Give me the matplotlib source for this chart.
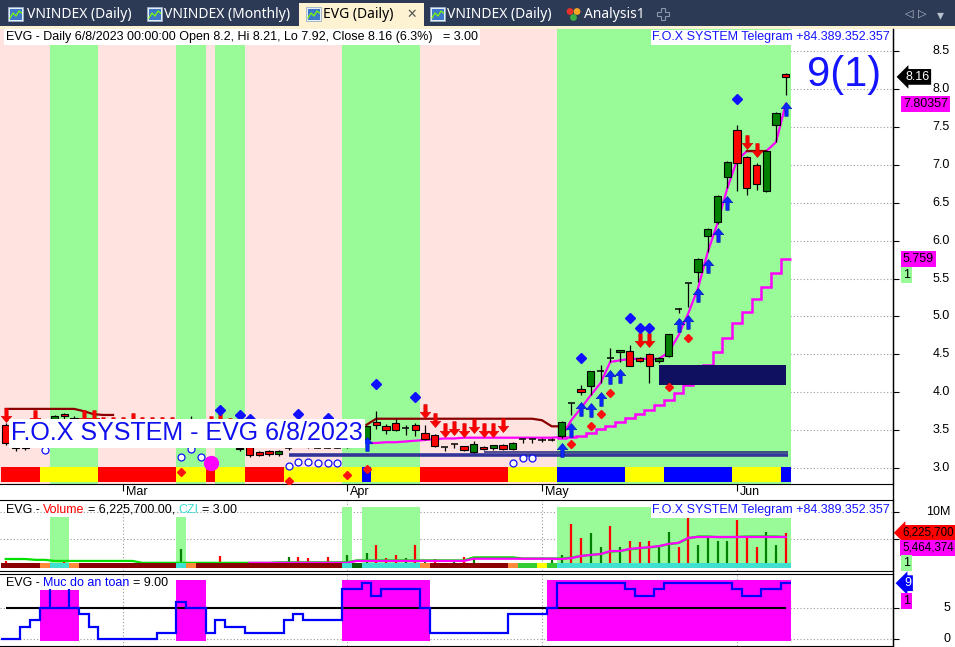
import numpy as np
import matplotlib
matplotlib.use("Agg")
import matplotlib.pyplot as plt
from matplotlib.patches import Rectangle, Circle, Polygon
from matplotlib.path import Path
from matplotlib.lines import Line2D
from matplotlib.font_manager import FontProperties
from matplotlib.transforms import blended_transform_factory

W, H = 955, 647
plt.rcParams["font.family"] = ["Liberation Sans", "DejaVu Sans"]
plt.rcParams["font.size"] = 9

# ---------------- data (bar 0 = 13 Feb 2023 ... bar 80 = 8 Jun 2023) ----------------
month_names = ["Mar", "Apr", "May", "Jun"]
month_bars = [12, 35, 55, 75]

opens = [3.57, 3.33, 3.28, 3.30, 3.40, 3.50, 3.71, 3.66, 3.55, 3.50,
         3.45, 3.42, 3.40, 3.38, 3.36, 3.33, 3.32, 3.35, 3.33, 3.45,
         3.50, 3.46, 3.40, 3.45, 3.26, 3.28, 3.21, 3.22, 3.18, 3.26,
         3.30, 3.32, 3.26, 3.26, 3.26, 3.28, 3.38, 3.38, 3.61, 3.55,
         3.59, 3.53, 3.57, 3.46, 3.44, 3.28, 3.32, 3.29, 3.21, 3.28,
         3.26, 3.30, 3.25, 3.38, 3.38, 3.37, 3.37, 3.42, 3.86, 4.04,
         4.08, 4.28, 4.45, 4.53, 4.54, 4.45, 4.50, 4.41, 4.48, 5.10,
         5.44, 5.59, 6.06, 6.25, 6.84, 7.46, 7.10, 7.00, 6.65, 7.53,
         8.20]
highs = [3.60, 3.40, 3.38, 3.45, 3.52, 3.70, 3.72, 3.68, 3.60, 3.55,
         3.50, 3.48, 3.45, 3.44, 3.42, 3.40, 3.40, 3.42, 3.50, 3.69,
         3.58, 3.50, 3.52, 3.50, 3.40, 3.34, 3.23, 3.24, 3.24, 3.30,
         3.38, 3.36, 3.32, 3.32, 3.30, 3.40, 3.45, 3.56, 3.75, 3.58,
         3.64, 3.57, 3.60, 3.57, 3.45, 3.28, 3.32, 3.29, 3.35, 3.29,
         3.31, 3.32, 3.34, 3.38, 3.38, 3.40, 3.40, 3.62, 3.86, 4.09,
         4.28, 4.36, 4.58, 4.56, 4.62, 4.47, 4.52, 4.46, 4.77, 5.11,
         5.44, 5.77, 6.16, 6.60, 7.05, 7.53, 7.12, 7.02, 7.19, 7.70,
         8.21]
lows = [3.30, 3.23, 3.24, 3.28, 3.35, 3.48, 3.60, 3.50, 3.45, 3.40,
        3.38, 3.35, 3.33, 3.32, 3.30, 3.28, 3.28, 3.30, 3.30, 3.40,
        3.42, 3.38, 3.36, 3.35, 3.23, 3.15, 3.16, 3.16, 3.16, 3.24,
        3.28, 3.27, 3.26, 3.26, 3.26, 3.26, 3.34, 3.36, 3.52, 3.45,
        3.49, 3.44, 3.42, 3.37, 3.28, 3.22, 3.26, 3.23, 3.20, 3.24,
        3.24, 3.24, 3.24, 3.33, 3.33, 3.34, 3.35, 3.40, 3.70, 3.96,
        3.96, 4.12, 4.40, 4.40, 4.35, 4.40, 4.12, 4.38, 4.46, 5.04,
        5.12, 5.45, 5.85, 6.22, 6.69, 6.65, 6.60, 6.67, 6.64, 7.30,
        7.92]
closes = [3.33, 3.26, 3.26, 3.40, 3.48, 3.69, 3.69, 3.55, 3.50, 3.45,
          3.42, 3.40, 3.38, 3.35, 3.33, 3.32, 3.35, 3.33, 3.45, 3.50,
          3.46, 3.40, 3.45, 3.38, 3.25, 3.17, 3.17, 3.18, 3.22, 3.26,
          3.32, 3.30, 3.26, 3.26, 3.26, 3.38, 3.40, 3.55, 3.57, 3.50,
          3.50, 3.53, 3.50, 3.38, 3.29, 3.28, 3.32, 3.24, 3.32, 3.25,
          3.30, 3.25, 3.33, 3.38, 3.38, 3.37, 3.37, 3.61, 3.86, 4.00,
          4.28, 4.28, 4.45, 4.56, 4.35, 4.41, 4.35, 4.45, 4.77, 5.10,
          5.44, 5.76, 6.15, 6.59, 7.04, 7.02, 6.69, 6.75, 7.18, 7.68,
          8.16]

# stop lines: (first bar, values)
resist_segments = [(0, [3.78, 3.78, 3.78, 3.78, 3.78, 3.78, 3.78, 3.78, 3.75, 3.71, 3.70, 3.70]),
                   (37, [3.57, 3.65, 3.65, 3.65, 3.65, 3.65, 3.65, 3.65, 3.65, 3.65,
                         3.65, 3.65, 3.65, 3.65, 3.65, 3.65, 3.65, 3.65, 3.63, 3.55, 3.55]),
                   (76, [7.18, 7.18, 7.18])]
fast_trail_start = 37
fast_trail = [3.33, 3.33, 3.34, 3.34, 3.35, 3.36, 3.37, 3.38, 3.39, 3.39,
              3.40, 3.40, 3.40, 3.40, 3.40, 3.40, 3.40, 3.40, 3.40, 3.40,
              3.41, 3.63, 3.79, 3.96, 4.12, 4.40, 4.42, 4.44, 4.44, 4.44,
              4.44, 4.53, 4.75, 5.04, 5.37, 5.85, 6.23, 6.69, 7.06, 7.18,
              7.18, 7.18, 7.30, 7.80357]
slow_trail_start = 57
slow_trail = [3.40, 3.41, 3.42, 3.46, 3.51, 3.55, 3.61, 3.66, 3.71, 3.77,
              3.83, 3.90, 3.99, 4.09, 4.16, 4.36, 4.53, 4.72, 4.91, 5.06,
              5.23, 5.39, 5.57, 5.759]
support_levels = [(29, 3.17), (49, 3.21)]
zone_bars = (67, 80)
zone_prices = (4.10, 4.36)

sell_bars = [0, 3, 8, 9, 10, 11, 12, 13, 14, 15, 16, 17, 21, 22, 23,
             43, 44, 45, 46, 47, 48, 49, 50, 51, 65, 66, 76, 77]
sell_tips = [3.61, 3.58, 3.58, 3.58, 3.49, 3.49, 3.49, 3.54, 3.49, 3.49, 3.49, 3.49, 3.50, 3.54, 3.47,
             3.66, 3.54, 3.41, 3.43, 3.41, 3.46, 3.41, 3.41, 3.47, 4.60, 4.60, 7.21, 7.10]
buy_bars = [37, 57, 58, 59, 60, 61, 62, 63, 69, 70, 71, 72, 73, 74, 80]
buy_tips = [3.41, 3.33, 3.59, 3.87, 3.86, 4.00, 4.29, 4.31, 4.98, 5.02, 5.37, 5.76, 6.17, 6.59, 7.83]
blue_dia_bars = [22, 24, 25, 30, 33, 38, 42, 59, 64, 65, 66, 75]
blue_dia_vals = [3.765, 3.70, 3.646, 3.712, 3.66, 4.108, 3.937, 4.451, 4.979, 4.847, 4.847, 7.868]
red_dia_bars = [18, 29, 35, 37, 58, 60, 61, 62, 68, 70]
red_dia_vals = [2.947, 2.828, 2.908, 2.987, 3.317, 3.554, 3.712, 3.989, 4.069, 4.715]
ring_bars = [4, 18, 19, 20, 29, 30, 31, 32, 33, 34, 52, 53, 54]
ring_vals = [3.237, 3.145, 3.251, 3.145, 3.026, 3.079, 3.079, 3.066, 3.066, 3.066, 3.066, 3.132, 3.132]
dot_bar, dot_val = 21, 3.066

bg_segments = [(0, 4, "pink"), (5, 9, "green"), (10, 17, "pink"), (18, 20, "green"),
               (21, 21, "pink"), (22, 24, "green"), (25, 34, "pink"), (35, 42, "green"),
               (43, 56, "pink"), (57, 80, "green")]
band_segments = [(0, 3, "r"), (4, 9, "y"), (10, 17, "r"), (18, 20, "y"), (21, 21, "r"),
                 (22, 24, "y"), (25, 28, "r"), (29, 36, "y"), (37, 37, "b"), (38, 42, "y"),
                 (43, 51, "r"), (52, 56, "y"), (57, 63, "b"), (64, 67, "y"), (68, 74, "b"),
                 (75, 79, "y"), (80, 80, "b")]

# volume panel (millions)
volumes = [1.1, 0.55, 0.4, 0.5, 0.45, 0.8, 1.1, 0.6, 0.5, 0.4,
           0.5, 0.4, 0.6, 0.4, 0.5, 0.4, 0.6, 0.4, 3.3, 0.8,
           0.6, 0.7, 2.0, 0.8, 0.7, 0.9, 0.8, 0.6, 0.8, 1.8,
           1.8, 1.6, 0.6, 1.8, 0.6, 2.2, 0.3, 2.5, 4.0, 1.6,
           2.2, 1.6, 4.0, 1.2, 1.5, 0.8, 1.0, 1.8, 1.5, 0.6,
           0.6, 0.5, 0.8, 0.6, 0.6, 0.4, 1.3, 2.2, 7.8, 5.3,
           6.2, 3.6, 7.5, 3.6, 4.7, 4.5, 4.7, 3.6, 6.4, 3.6,
           9.1, 4.0, 5.3, 4.7, 4.7, 8.5, 5.6, 3.6, 6.4, 4.0,
           6.2257]
vol_up = "rrrrrgrrrrrrrrrgrrgrrrrrgrrrggrrrrggggrrrgrgrrgrgrgrggggggrrggrgrrrggrrggggrrrggr"
vol_ma_green = [1.45, 1.45, 1.45, 1.3, 1.3, 1.1, 1.1, 1.1, 1.1, 1.1,
                1.1, 1.1, 1.1, 1.1, 0.75, 0.75, 0.75, 0.75, 0.75, 0.75,
                0.75, 0.75, 0.75, 0.75, 0.75, 0.75, 0.75, 0.75, 0.85, 0.85,
                0.85, 0.85, 0.85, 0.85, 0.85, 0.85, 1.2, 1.2, 1.2, 1.2,
                1.2, 1.2, 1.2, 1.2, 1.2, 1.2, 1.2, 1.2, 1.75, 1.75,
                1.75, 1.75, 1.75, 1.55, 1.55, 1.55, 1.55, 1.55, 1.7, 2.0,
                2.2, 2.35, 2.8, 2.9, 3.2, 3.4, 3.55, 3.75, 4.15, 4.35,
                5.2, 5.55, 5.55, 5.42, 5.42, 5.44, 5.55, 5.55, 5.55, 5.55,
                5.44]
vol_ma_mag_start = 25
vol_ma_mag = [0.75, 0.75, 0.75, 0.75, 0.75, 0.75, 0.75, 0.75, 0.75, 0.75,
              0.75, 1.1, 1.1, 1.1, 1.1, 1.1, 1.1, 1.1, 1.1, 1.1,
              1.1, 1.1, 1.1, 1.5, 1.5, 1.5, 1.5, 1.5, 1.5, 1.5,
              1.5, 1.5, 1.45, 1.6, 2.0, 2.2, 2.35, 2.9, 2.9, 3.3,
              3.45, 3.6, 3.8, 4.2, 4.4, 5.3, 5.46, 5.46, 5.46, 5.46,
              5.46, 5.46, 5.46, 5.46, 5.46, 5.4644]
czi_segments = [(0, 3, "dr"), (4, 4, "or"), (5, 6, "cy"), (7, 7, "or"), (8, 17, "dr"),
                (18, 18, "cy"), (19, 19, "or"), (20, 34, "dr"), (35, 35, "cy"), (36, 36, "dg"),
                (37, 42, "cy"), (43, 43, "or"), (44, 51, "dr"), (52, 52, "or"), (53, 54, "li"),
                (55, 55, "ye"), (56, 56, "li"), (57, 80, "cy")]
vol_bg_segments = [(5, 6, 9.1), (18, 18, 9.1), (35, 35, 10.9), (37, 42, 10.9), (57, 80, 10.9)]

# safety level panel
safety = [0, 0, 2, 3, 5, 5, 5, 5, 4, 2,
          0, 0, 0, 0, 0, 0, 1, 1, 6, 5,
          5, 1, 3, 2, 2, 1, 1, 1, 1, 3,
          4, 3, 3, 3, 3, 8, 8, 9, 7, 8,
          8, 8, 8, 5, 1, 1, 1, 1, 1, 1,
          1, 1, 4, 4, 4, 4, 5, 9, 9, 9,
          9, 9, 9, 9, 8, 7, 7, 8, 9, 9,
          9, 9, 9, 9, 9, 8, 7, 7, 8, 8,
          9]
safety_spikes = [4.5, 6.5]
safe_zones = [(4, 7, 7.9), (18, 20, 9.5), (35, 43, 9.5), (56, 80, 9.5)]

# ---------------- colours ----------------
BG = {"pink": "#FFE3E0", "green": "#98FB98"}
BAND = {"r": "#FF0000", "y": "#FFFF00", "b": "#0000FF"}
CZI = {"dr": "#8B0000", "or": "#FF8C3A", "cy": "#40E0D0", "dg": "#006400",
       "li": "#32CD32", "ye": "#FFFF00"}
BLUE_TXT = "#1414FF"

fig = plt.figure(figsize=(W / 100, H / 100), dpi=100)
fig.patch.set_facecolor("white")


def px_axes(x0, y0, x1, y1):
    return fig.add_axes([x0 / W, 1 - y1 / H, (x1 - x0) / W, (y1 - y0) / H])


def fig_text(x, y, s, **kw):
    return fig.text(x / W, 1 - y / H, s, **kw)


# ---------------- tab strip ----------------
tab = px_axes(0, 0, W, 29)
tab.set_xlim(0, W)
tab.set_ylim(29, 0)
tab.axis("off")
tab.add_patch(Rectangle((0, 0), W, 29, fc="#2C3A56", ec="none"))
tab.add_patch(Rectangle((0, 26), W, 3, fc="#FBF1D3", ec="none"))
tab.add_patch(Rectangle((299, 3), 125, 26, fc="#FDF3D3", ec="none"))


def chart_icon(x):
    tab.add_patch(Rectangle((x, 7), 15, 14, fc="#E6EEF8", ec="#9AB0CC", lw=0.6))
    tab.add_patch(Rectangle((x + 1.5, 8.5), 12, 11, fc="#3E78C8", ec="none"))
    tab.plot([x + 2, x + 5, x + 8, x + 11, x + 13.5], [18, 13, 16, 11, 13], color="#7CFC00", lw=0.9)


tab_font = ["Noto Sans", "DejaVu Sans"]
for xi, xt, label in [(8, 27, "VNINDEX (Daily)"), (147, 164, "VNINDEX (Monthly)"),
                      (430, 447, "VNINDEX (Daily)")]:
    chart_icon(xi)
    tab.text(xt, 14.5, label, color="white", fontsize=10, family=tab_font, va="center")
chart_icon(306)
tab.text(323, 14.5, "EVG (Daily)", color="black", fontsize=10, family=tab_font,
         fontweight="bold", va="center")
tab.text(412, 14.5, "\u2715", color="#555555", fontsize=9, family="DejaVu Sans", va="center", ha="center")
for cx, cy, col in [(570, 11.5, "#E8302A"), (577, 11.5, "#F5A623"), (573.5, 17.5, "#3CB043")]:
    tab.add_patch(Circle((cx, cy), 3.4, fc=col, ec="none"))
tab.text(584, 14.5, "Analysis1", color="white", fontsize=10, family=tab_font, va="center")
plus = [(-2, -6), (2, -6), (2, -2), (6, -2), (6, 2), (2, 2), (2, 6), (-2, 6), (-2, 2), (-6, 2), (-6, -2), (-2, -2)]
tab.add_patch(Polygon([(663 + a, 13.5 + b) for a, b in plus], closed=True, fc="none", ec="#8A96AA", lw=0.8))
tab.text(909, 13.5, "\u25C1", color="#B8C0CC", fontsize=8, family="DejaVu Sans", va="center", ha="center")
tab.text(922, 13.5, "\u25B7", color="#B8C0CC", fontsize=8, family="DejaVu Sans", va="center", ha="center")
tab.text(940, 15, "\u25BE", color="#B8C0CC", fontsize=10, family="DejaVu Sans", va="center", ha="center")

# ---------------- price panel ----------------
ax = px_axes(0, 29, 893, 484)
ax.set_xlim(-0.59, 91.0)
ax.set_ylim(2.789, 8.792)
ax.set_axisbelow(True)
ax.yaxis.grid(True, ls=(0, (1, 2)), color="#9A9A9A", lw=0.8)
for s in ["top", "left"]:
    ax.spines[s].set_visible(False)
ax.yaxis.tick_right()
price_ticks = [3.0, 3.5, 4.0, 4.5, 5.0, 5.5, 6.0, 6.5, 7.0, 7.5, 8.0, 8.5]
ax.set_yticks(price_ticks)
ax.tick_params(axis="y", length=4, direction="out", labelright=False, labelleft=False)
ax.set_xticks(month_bars)
ax.tick_params(axis="x", length=5, direction="out", labelbottom=False)

x_lo = ax.get_xlim()[0]
for s, e, c in bg_segments:
    ax.axvspan(s - 0.5 if s > 0 else x_lo, e + 0.5, color=BG[c], lw=0, zorder=0.8)
for s, e, c in band_segments:
    ax.add_patch(Rectangle((s - 0.5, 2.812), e - s + 1, 0.203, fc=BAND[c], ec="none", zorder=1.2))

# stop / trail lines
for start, vals in resist_segments:
    ax.plot(np.arange(start, start + len(vals)), vals, color="#8B0000", lw=1.6, zorder=2.6)
ax.plot(np.arange(fast_trail_start, fast_trail_start + len(fast_trail)), fast_trail,
        color="#FF00FF", lw=1.6, zorder=2.5)
ax.stairs(slow_trail, np.arange(slow_trail_start - 0.5, slow_trail_start + len(slow_trail)),
          baseline=None, color="#FF00FF", lw=1.8, zorder=2.5)
ax.hlines(support_levels[0][1], support_levels[0][0], 80.2, color="#33339A", lw=2.6, zorder=2.4)
ax.hlines(support_levels[1][1], support_levels[1][0], 80.2, color="#20207A", lw=1.1, zorder=2.4)
ax.fill_between(list(zone_bars), zone_prices[0], zone_prices[1], color="#101060", lw=0, zorder=2.7)

# candles
for i in range(len(opens)):
    o, h, l, c = opens[i], highs[i], lows[i], closes[i]
    ax.vlines(i, l, h, color="black", lw=0.9, zorder=3)
    if abs(c - o) < 1e-9:
        ax.hlines(c, i - 0.375, i + 0.375, color="black", lw=1.1, zorder=3.1)
    else:
        ax.add_patch(Rectangle((i - 0.375, min(o, c)), 0.75, abs(c - o),
                               fc="#008000" if c > o else "#FF0000", ec="black", lw=0.8, zorder=3.1))

up_arrow = Path([(0, 0), (0.38, -0.45), (0.12, -0.45), (0.12, -1.0), (-0.12, -1.0),
                 (-0.12, -0.45), (-0.38, -0.45), (0, 0)], closed=True)
down_arrow = Path([(0, 0), (0.38, 0.45), (0.12, 0.45), (0.12, 1.0), (-0.12, 1.0),
                   (-0.12, 0.45), (-0.38, 0.45), (0, 0)], closed=True)
ax.plot(sell_bars, sell_tips, ls="none", marker=down_arrow, ms=20, mfc="#FF0000",
        mec="#D00000", mew=0.4, zorder=5)
ax.plot(buy_bars, buy_tips, ls="none", marker=up_arrow, ms=20, mfc="#0A28FF",
        mec="#0010B0", mew=0.4, zorder=5)
ax.plot(blue_dia_bars, blue_dia_vals, ls="none", marker="D", ms=4.6, color="#1010FF", zorder=5)
ax.plot(red_dia_bars, red_dia_vals, ls="none", marker="D", ms=4.2, color="#FF1010", zorder=5)
ax.plot(ring_bars, ring_vals, ls="none", marker="o", ms=5, mfc="white", mec="#1010FF", mew=0.9, zorder=5)
ax.plot([dot_bar], [dot_val], ls="none", marker="o", ms=10, color="#FF00FF", zorder=5)

tr_main = blended_transform_factory(ax.transData, ax.transAxes)
for b, name in zip(month_bars, month_names):
    ax.text(b + 0.3, -0.0185, name, transform=tr_main, ha="left", va="center", fontsize=9)


def right_labels(axis, values, texts):
    tr = blended_transform_factory(axis.transAxes, axis.transData)
    for v, t in zip(values, texts):
        axis.text(950 / 893, v, t, transform=tr, ha="right", va="center", fontsize=9)


def tag(axis, value, text, fc, tc="black", dy=0, arrow=False, x_px=903, size=9):
    style = "larrow,pad=0.15" if arrow else "square,pad=0.15"
    axis.annotate(text, xy=(1, value), xycoords=("axes fraction", "data"),
                  xytext=(x_px - 893, -dy), textcoords="offset pixels", ha="left", va="center",
                  fontsize=size, color=tc, bbox=dict(boxstyle=style, fc=fc, ec="none"),
                  annotation_clip=False, zorder=6)


right_labels(ax, price_ticks, [f"{v:.1f}" for v in price_ticks])
tag(ax, closes[-1], f"{closes[-1]:.2f}", "black", "white", arrow=True, x_px=905)
tag(ax, fast_trail[-1], "7.80357", "#FF00FF")
tag(ax, slow_trail[-1], "5.759", "#FF00FF")
tag(ax, slow_trail[-1], "1", "#98FB98", dy=16)

# ---------------- volume panel ----------------
vax = px_axes(0, 500, 893, 571)
vax.set_xlim(-0.59, 91.0)
vax.set_ylim(-0.73, 12.18)
vax.set_axisbelow(True)
vax.spines["left"].set_visible(False)
vax.yaxis.tick_right()
vax.set_yticks([5, 10])
vax.tick_params(axis="y", length=4, labelright=False, labelleft=False)
vax.set_xticks(month_bars)
vax.tick_params(axis="x", length=0, labelbottom=False)
vax.grid(True, ls=(0, (1, 2)), color="#9A9A9A", lw=0.8)
for s, e, top in vol_bg_segments:
    vax.add_patch(Rectangle((s - 0.5, 0), e - s + 1, top, fc="#98FB98", ec="none", zorder=0.8))
bars = np.arange(len(volumes))
vax.vlines(bars, 0, volumes, colors=["#008000" if u == "g" else "#FF0000" for u in vol_up],
           lw=1.6, zorder=2)
vax.plot(bars, vol_ma_green, color="#00E000", lw=1.6, zorder=2.2)
vax.plot(np.arange(vol_ma_mag_start, vol_ma_mag_start + len(vol_ma_mag)), vol_ma_mag,
         color="#FF00FF", lw=1.6, zorder=2.3)
for s, e, c in czi_segments:
    vax.bar(np.arange(s, e + 1), 0.75, width=1.0, bottom=-0.1, color=CZI[c], lw=0, zorder=2.5)
right_labels(vax, [10], ["10M"])
tag(vax, volumes[-1], "6,225,700", "#FF0000", arrow=True, x_px=902, size=8.3)
tag(vax, vol_ma_mag[-1], "5,464,374", "#FF00FF", dy=11, x_px=902, size=8.3)
tag(vax, vol_ma_mag[-1], "1", "#98FB98", dy=26)

# ---------------- safety panel ----------------
lax = px_axes(0, 574, 893, 646)
lax.set_xlim(-0.59, 91.0)
lax.set_ylim(-1.13, 10.48)
lax.set_axisbelow(True)
lax.spines["left"].set_visible(False)
lax.yaxis.tick_right()
lax.set_yticks([0, 5])
lax.tick_params(axis="y", length=4, labelright=False, labelleft=False)
lax.set_xticks(month_bars)
lax.tick_params(axis="x", length=0, labelbottom=False)
lax.grid(True, ls=(0, (1, 2)), color="#9A9A9A", lw=0.8)
for s, e, top in safe_zones:
    lax.fill_between([s - 0.5, e + 0.5], -0.3, top, color="#FF00FF", lw=0, zorder=0.8)
lax.hlines(5, 0, 80, color="black", lw=1.5, zorder=2)
lax.stairs(safety, np.arange(-0.5, len(safety)), baseline=None, color="#0000FF", lw=1.6, zorder=3)
lax.vlines(safety_spikes, 5, 8, color="#0000FF", lw=1.6, zorder=3)
right_labels(lax, [0, 5], ["0", "5"])
tag(lax, safety[-1], "9", "#0000FF", "white", arrow=True, x_px=904)
tag(lax, safety[-1], "1", "#FF00FF", dy=18)

# axis line on the right through all panels
fig.add_artist(Line2D([893 / W, 893 / W], [1 - 29 / H, 1 - 646 / H], color="black", lw=1))

# ---------------- text overlays ----------------
fig_text(6, 37, "EVG - Daily 6/8/2023 00:00:00 Open 8.2, Hi 8.21, Lo 7.92, Close 8.16 (6.3%)   = 3.00",
         fontsize=9, va="center", bbox=dict(boxstyle="square,pad=0.15", fc="white", ec="none"))
for yy in (37, 510):
    fig_text(652, yy, "F.O.X SYSTEM Telegram +84.389.352.357", fontsize=9, color=BLUE_TXT,
             va="center", bbox=dict(boxstyle="square,pad=0.12", fc="white", ec="none"))
fig_text(844, 75, "9(1)", fontsize=30, color=BLUE_TXT, ha="center", va="center")
fig_text(11, 433, "F.O.X SYSTEM - EVG 6/8/2023", fontsize=18, color="#1010EE", va="center",
         bbox=dict(boxstyle="square,pad=0.1", fc="white", ec="none"))

renderer = fig.canvas.get_renderer()
prop9 = FontProperties(family=["Liberation Sans", "DejaVu Sans"], size=9)


def text_w(s):
    w1 = renderer.get_text_width_height_descent(s + "|", prop9, ismath=False)[0]
    w2 = renderer.get_text_width_height_descent("|", prop9, ismath=False)[0]
    return w1 - w2


def multi_text(x, y, parts):
    prefix = ""
    for s, col in parts:
        lead = s[:len(s) - len(s.lstrip())]
        fig_text(x + text_w(prefix + lead), y, s.lstrip(), color=col, fontsize=9, va="center")
        prefix += s


multi_text(6, 510, [("EVG - ", "black"), ("Volume", "#FF0000"), (" = 6,225,700.00, ", "black"),
                    ("CZI", "#40E0D0"), (" = 3.00", "black")])
multi_text(6, 583, [("EVG - ", "black"), ("Muc do an toan", "#0000FF"), (" = 9.00", "black")])

fig.savefig("out.png", dpi=100)
